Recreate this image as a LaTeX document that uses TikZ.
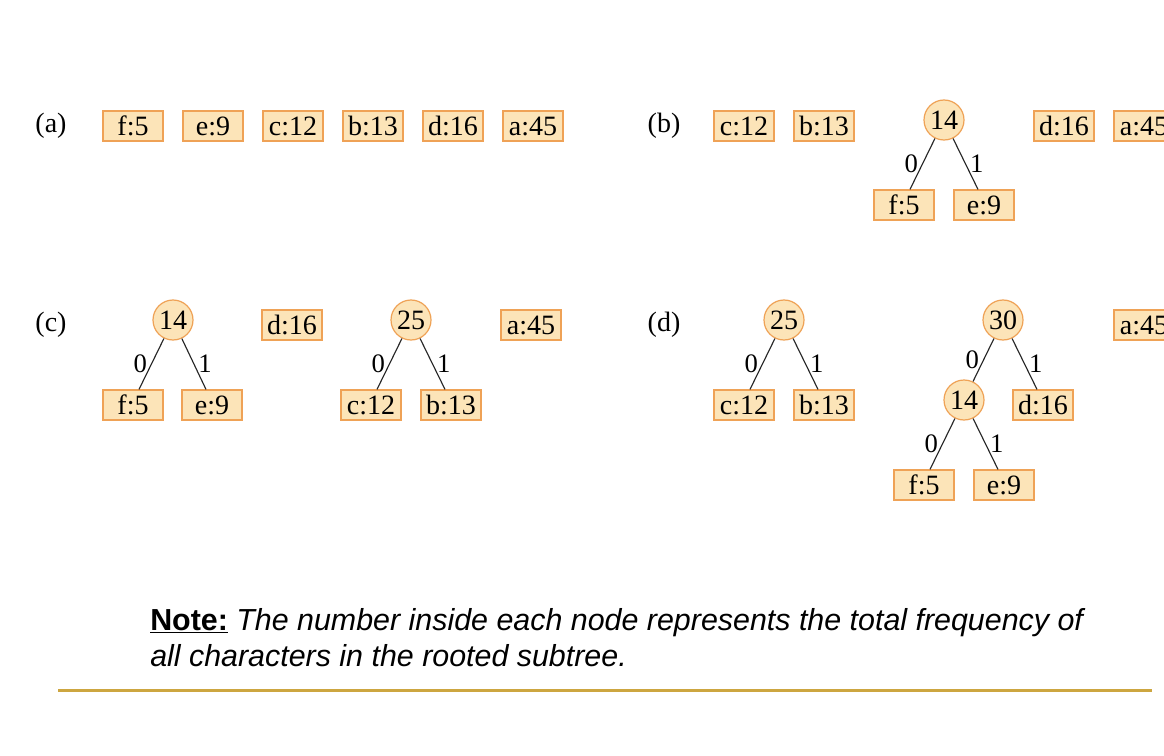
\documentclass[tikz,border=0pt]{standalone}
\usepackage{fontspec}
\setmainfont{Liberation Serif}
\newfontfamily\notefont{Liberation Sans}
\definecolor{boxfill}{HTML}{FCE4B8}
\definecolor{boxline}{HTML}{EFA256}
\definecolor{rulecol}{HTML}{CDA640}
\begin{document}
\begin{tikzpicture}[x=0.75pt,y=-0.75pt,
  leaf/.style={draw=boxline, fill=boxfill, line width=0.9pt, minimum width=45pt, minimum height=22.5pt, inner sep=0pt, font=\fontsize{21}{24}\selectfont},
  inode/.style={circle, draw=boxline, fill=boxfill, line width=0.9pt, minimum size=30pt, inner sep=0pt, font=\fontsize{21}{24}\selectfont},
  tag/.style={font=\fontsize{21}{24}\selectfont, inner sep=0pt},
  edge/.style={draw=black!85, line width=0.85pt},
  bit/.style={font=\fontsize{20}{24}\selectfont, inner sep=1pt}]
\useasboundingbox (0,0) rectangle (1164,756);
\clip (0,0) rectangle (1164,756);
\fill[white] (0,0) rectangle (1164,756);

% (a)
\node[tag] (la) at (51,126) {(a)};
\node[leaf] (af) at (133,126) {f:5};
\node[leaf] (ae) at (213,126) {e:9};
\node[leaf] (ac) at (293,126) {c:12};
\node[leaf] (ab) at (373,126) {b:13};
\node[leaf] (ad) at (453,126) {d:16};
\node[leaf] (aa) at (533,126) {a:45};

% (b)
\node[tag] (lb) at (664,126) {(b)};
\node[leaf] (bc) at (744,126) {c:12};
\node[leaf] (bb) at (824,126) {b:13};
\node[inode] (b14) at (944,120) {14};
\node[leaf] (bf) at (904,205) {f:5};
\node[leaf] (be) at (984,205) {e:9};
\node[leaf] (bd) at (1064,126) {d:16};
\node[leaf] (ba) at (1144,126) {a:45};
\draw[edge] (b14) -- ([xshift=4.5pt]bf.north) node[pos=0.5,left=2pt,bit]{0};
\draw[edge] (b14) -- ([xshift=-4.5pt]be.north) node[pos=0.5,right=2pt,bit]{1};

% (c)
\node[tag] (lc) at (51,325) {(c)};
\node[inode] (c14) at (173,320) {14};
\node[leaf] (cf) at (133,405) {f:5};
\node[leaf] (ce) at (212,405) {e:9};
\node[leaf] (cd) at (292,325) {d:16};
\node[inode] (c25) at (411,320) {25};
\node[leaf] (cc) at (371,405) {c:12};
\node[leaf] (cb) at (451,405) {b:13};
\node[leaf] (ca) at (531,325) {a:45};
\draw[edge] (c14) -- ([xshift=4.5pt]cf.north) node[pos=0.5,left=2pt,bit]{0};
\draw[edge] (c14) -- ([xshift=-4.5pt]ce.north) node[pos=0.5,right=2pt,bit]{1};
\draw[edge] (c25) -- ([xshift=4.5pt]cc.north) node[pos=0.5,left=2pt,bit]{0};
\draw[edge] (c25) -- ([xshift=-4.5pt]cb.north) node[pos=0.5,right=2pt,bit]{1};

% (d)
\node[tag] (ld) at (664,325) {(d)};
\node[inode] (d25) at (784,320) {25};
\node[leaf] (dc) at (744,405) {c:12};
\node[leaf] (db) at (824,405) {b:13};
\node[inode] (d30) at (1003,320) {30};
\node[inode] (d14) at (964,400) {14};
\node[leaf] (dd) at (1043,405) {d:16};
\node[leaf] (df) at (924,485) {f:5};
\node[leaf] (de) at (1004,485) {e:9};
\node[leaf] (da) at (1144,325) {a:45};
\draw[edge] (d25) -- ([xshift=4.5pt]dc.north) node[pos=0.5,left=2pt,bit]{0};
\draw[edge] (d25) -- ([xshift=-4.5pt]db.north) node[pos=0.5,right=2pt,bit]{1};
\draw[edge] (d30) -- (d14) node[pos=0.5,left=2pt,bit]{0};
\draw[edge] (d30) -- ([xshift=-4.5pt]dd.north) node[pos=0.5,right=2pt,bit]{1};
\draw[edge] (d14) -- ([xshift=4.5pt]df.north) node[pos=0.5,left=2pt,bit]{0};
\draw[edge] (d14) -- ([xshift=-4.5pt]de.north) node[pos=0.5,right=2pt,bit]{1};

% note
\node[anchor=base west, inner sep=0pt, font=\notefont\fontsize{22.8}{27}\selectfont] (n1) at (150,630)
  {\underline{\textbf{Note:}} \textit{The number inside each node represents the total frequency of}};
\node[anchor=base west, inner sep=0pt, font=\notefont\fontsize{22.8}{27}\selectfont] (n2) at (150,666)
  {\textit{all characters in the rooted subtree.}};
\coordinate (r1) at (58,690.5);
\coordinate (r2) at (1152,690.5);
\draw[rulecol, line width=2.25pt] (r1) -- (r2);
\end{tikzpicture}
\end{document}
